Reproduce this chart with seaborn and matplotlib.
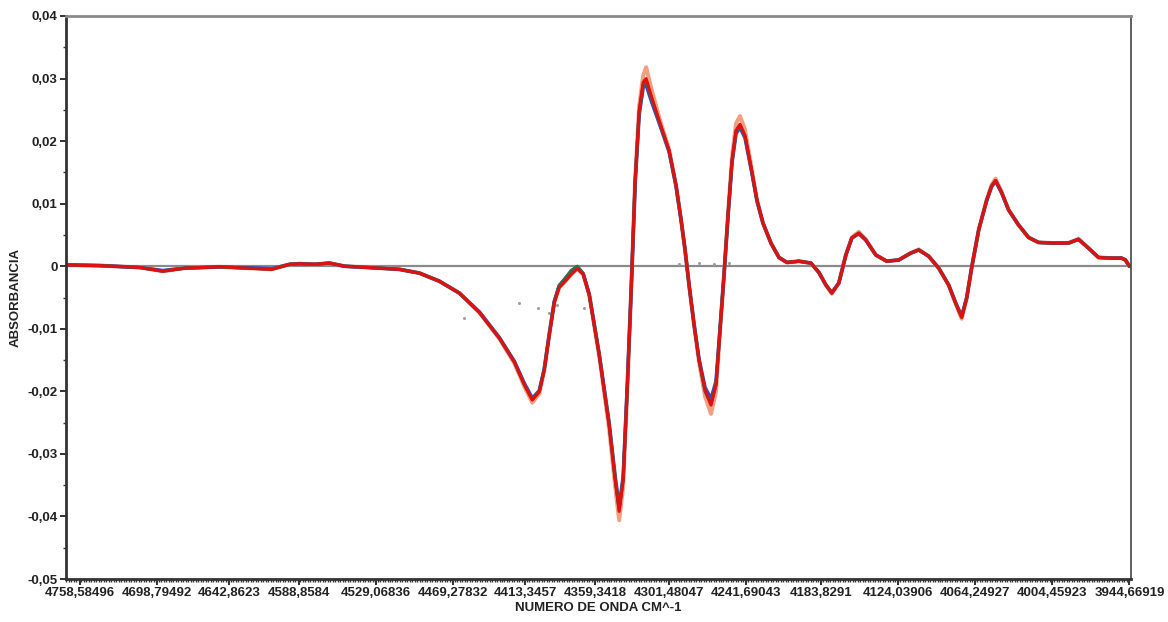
import matplotlib
matplotlib.use("Agg")
import matplotlib.pyplot as plt
import matplotlib.ticker as mticker
import pandas as pd
import seaborn as sns

# wavenumber (cm^-1) of the read points, high -> low
wavenumber = [
    4769.4, 4743.1, 4712.1, 4694.3, 4677.3, 4650.2, 4619.2, 4609.9, 4596.0, 4588.2,
    4576.6, 4565.0, 4553.4, 4526.3, 4510.8, 4495.3, 4479.8, 4464.3, 4448.8, 4433.3,
    4421.7, 4414.0, 4407.8, 4402.4, 4398.5, 4394.6, 4390.7, 4386.9, 4382.2, 4377.6,
    4372.9, 4368.3, 4363.6, 4355.9, 4348.2, 4343.5, 4340.4, 4337.3, 4334.2, 4331.1,
    4328.0, 4324.9, 4321.8, 4319.5, 4315.6, 4309.4, 4301.7, 4296.3, 4292.4, 4289.3,
    4286.2, 4282.3, 4278.5, 4273.8, 4269.2, 4265.3, 4262.2, 4259.1, 4256.0, 4252.9,
    4249.8, 4246.7, 4242.8, 4237.4, 4233.5, 4228.9, 4222.7, 4216.5, 4210.3, 4201.0,
    4191.7, 4185.5, 4180.1, 4175.5, 4170.1, 4164.6, 4160.0, 4154.6, 4149.2, 4141.4,
    4132.9, 4123.6, 4114.3, 4108.1, 4100.4, 4092.6, 4084.9, 4079.5, 4074.8, 4070.9,
    4067.1, 4061.6, 4055.5, 4051.6, 4048.5, 4043.8, 4038.4, 4030.7, 4022.9, 4015.2,
    4003.6, 3992.0, 3984.2, 3976.5, 3968.7, 3959.4, 3950.9, 3947.8, 3944.7,
]

abs_red = [
    0.0002, 0.0001, -0.0002, -0.0008, -0.0003, -0.0001, -0.0004, -0.0005, 0.0003, 0.0004,
    0.0003, 0.0005, 0.0000, -0.0003, -0.0005, -0.0011, -0.0024, -0.0043, -0.0074, -0.0115,
    -0.0153, -0.0189, -0.0214, -0.0201, -0.0166, -0.0110, -0.0058, -0.0034, -0.0024, -0.0013,
    -0.0004, -0.0013, -0.0046, -0.0142, -0.0254, -0.0342, -0.0392, -0.0342, -0.0198, -0.0038,
    0.0137, 0.0249, 0.0294, 0.0300, 0.0273, 0.0233, 0.0185, 0.0129, 0.0074, 0.0026,
    -0.0030, -0.0094, -0.0150, -0.0198, -0.0222, -0.0190, -0.0102, -0.0014, 0.0082, 0.0169,
    0.0217, 0.0227, 0.0209, 0.0150, 0.0105, 0.0069, 0.0037, 0.0014, 0.0006, 0.0008,
    0.0005, -0.0010, -0.0030, -0.0043, -0.0027, 0.0018, 0.0045, 0.0053, 0.0042, 0.0018,
    0.0008, 0.0010, 0.0021, 0.0026, 0.0016, -0.0003, -0.0030, -0.0059, -0.0082, -0.0051,
    -0.0003, 0.0058, 0.0105, 0.0128, 0.0137, 0.0118, 0.0090, 0.0066, 0.0046, 0.0038,
    0.0037, 0.0037, 0.0043, 0.0029, 0.0014, 0.0013, 0.0013, 0.0010, 0.0000,
]

abs_orange = [
    0.0002, 0.0001, -0.0002, -0.0008, -0.0003, -0.0001, -0.0004, -0.0005, 0.0003, 0.0004,
    0.0003, 0.0005, 0.0000, -0.0003, -0.0005, -0.0011, -0.0024, -0.0043, -0.0074, -0.0116,
    -0.0155, -0.0192, -0.0218, -0.0204, -0.0167, -0.0110, -0.0058, -0.0034, -0.0024, -0.0013,
    -0.0004, -0.0013, -0.0046, -0.0144, -0.0260, -0.0352, -0.0406, -0.0352, -0.0202, -0.0038,
    0.0140, 0.0256, 0.0305, 0.0318, 0.0285, 0.0238, 0.0187, 0.0130, 0.0074, 0.0026,
    -0.0030, -0.0095, -0.0153, -0.0208, -0.0236, -0.0200, -0.0105, -0.0014, 0.0084, 0.0174,
    0.0228, 0.0240, 0.0218, 0.0153, 0.0106, 0.0069, 0.0037, 0.0014, 0.0006, 0.0008,
    0.0005, -0.0010, -0.0030, -0.0044, -0.0027, 0.0018, 0.0046, 0.0055, 0.0043, 0.0018,
    0.0008, 0.0010, 0.0021, 0.0027, 0.0016, -0.0003, -0.0030, -0.0060, -0.0084, -0.0052,
    -0.0003, 0.0058, 0.0106, 0.0130, 0.0140, 0.0119, 0.0090, 0.0066, 0.0046, 0.0038,
    0.0037, 0.0037, 0.0044, 0.0029, 0.0014, 0.0013, 0.0013, 0.0010, 0.0000,
]

abs_blue = [
    0.0002, 0.0001, -0.0002, -0.0007, -0.0003, -0.0001, -0.0003, -0.0004, 0.0003, 0.0004,
    0.0003, 0.0005, 0.0000, -0.0003, -0.0005, -0.0011, -0.0024, -0.0043, -0.0073, -0.0114,
    -0.0152, -0.0187, -0.0211, -0.0199, -0.0164, -0.0108, -0.0056, -0.0031, -0.0020, -0.0008,
    -0.0001, -0.0012, -0.0045, -0.0140, -0.0250, -0.0336, -0.0385, -0.0336, -0.0195, -0.0038,
    0.0134, 0.0242, 0.0286, 0.0290, 0.0265, 0.0229, 0.0183, 0.0128, 0.0074, 0.0026,
    -0.0030, -0.0093, -0.0148, -0.0194, -0.0212, -0.0184, -0.0100, -0.0014, 0.0080, 0.0165,
    0.0212, 0.0222, 0.0205, 0.0148, 0.0104, 0.0069, 0.0037, 0.0014, 0.0006, 0.0008,
    0.0005, -0.0010, -0.0030, -0.0042, -0.0027, 0.0018, 0.0045, 0.0052, 0.0042, 0.0018,
    0.0008, 0.0010, 0.0021, 0.0026, 0.0016, -0.0003, -0.0030, -0.0058, -0.0080, -0.0050,
    -0.0003, 0.0058, 0.0104, 0.0127, 0.0136, 0.0117, 0.0090, 0.0066, 0.0046, 0.0038,
    0.0037, 0.0037, 0.0043, 0.0029, 0.0014, 0.0013, 0.0013, 0.0010, 0.0000,
]

abs_green = [
    0.0002, 0.0001, -0.0002, -0.0008, -0.0003, -0.0001, -0.0004, -0.0005, 0.0003, 0.0004,
    0.0003, 0.0005, 0.0000, -0.0003, -0.0005, -0.0011, -0.0024, -0.0043, -0.0074, -0.0115,
    -0.0153, -0.0189, -0.0213, -0.0200, -0.0165, -0.0109, -0.0057, -0.0031, -0.0019, -0.0007,
    0.0000, -0.0012, -0.0046, -0.0141, -0.0252, -0.0339, -0.0389, -0.0339, -0.0197, -0.0038,
    0.0136, 0.0246, 0.0290, 0.0296, 0.0270, 0.0231, 0.0184, 0.0129, 0.0074, 0.0026,
    -0.0030, -0.0094, -0.0150, -0.0200, -0.0220, -0.0189, -0.0101, -0.0014, 0.0081, 0.0167,
    0.0215, 0.0225, 0.0207, 0.0149, 0.0105, 0.0069, 0.0037, 0.0014, 0.0006, 0.0008,
    0.0005, -0.0010, -0.0030, -0.0043, -0.0027, 0.0018, 0.0045, 0.0053, 0.0042, 0.0018,
    0.0008, 0.0010, 0.0021, 0.0026, 0.0016, -0.0003, -0.0030, -0.0059, -0.0081, -0.0051,
    -0.0003, 0.0058, 0.0105, 0.0128, 0.0137, 0.0118, 0.0090, 0.0066, 0.0046, 0.0038,
    0.0037, 0.0037, 0.0043, 0.0029, 0.0014, 0.0013, 0.0013, 0.0010, 0.0000,
]

# stray grey points from an incomplete spectrum
noise_wn = [4460.4, 4435.7, 4417.8, 4403.1, 4394.6, 4388.4, 4367.5, 4331.1,
            4293.9, 4278.5, 4266.9, 4255.2]
noise_abs = [-0.0083, -0.0110, -0.0059, -0.0066, -0.0074, -0.0062, -0.0066, -0.0030,
             0.0003, 0.0005, 0.0003, 0.0005]

tick_wn = [4758.58496, 4698.79492, 4642.8623, 4588.8584, 4529.06836, 4469.27832,
           4413.3457, 4359.3418, 4301.48047, 4241.69043, 4183.8291, 4124.03906,
           4064.24927, 4004.45923, 3944.66919]
tick_labels = ["4758,58496", "4698,79492", "4642,8623", "4588,8584", "4529,06836",
               "4469,27832", "4413,3457", "4359,3418", "4301,48047", "4241,69043",
               "4183,8291", "4124,03906", "4064,24927", "4004,45923", "3944,66919"]

y_ticks = [0.04, 0.03, 0.02, 0.01, 0.0, -0.01, -0.02, -0.03, -0.04, -0.05]
y_labels = ["0,04", "0,03", "0,02", "0,01", "0", "-0,01", "-0,02", "-0,03", "-0,04", "-0,05"]

sns.set_theme(style="ticks")
plt.rcParams["font.family"] = ["Liberation Sans Narrow", "Liberation Sans", "DejaVu Sans"]

df = pd.concat([
    pd.DataFrame({"wn": wavenumber, "abs": abs_orange, "serie": "orange"}),
    pd.DataFrame({"wn": wavenumber, "abs": abs_blue, "serie": "blue"}),
    pd.DataFrame({"wn": wavenumber, "abs": abs_green, "serie": "green"}),
    pd.DataFrame({"wn": wavenumber, "abs": abs_red, "serie": "red"}),
], ignore_index=True)

fig = plt.figure(figsize=(11.68, 6.22), dpi=100)
ax = fig.add_axes([0.0565, 0.0691, 0.9118, 0.9052])

ax.axhline(0, color="#8a8a8a", lw=1.6, zorder=1)

styles = {
    "orange": ("#f0a080", 2.9),
    "blue": ("#3848c8", 2.6),
    "green": ("#2f6f4f", 2.3),
    "red": ("#e01010", 2.2),
}
for name, (color, lw) in styles.items():
    sns.lineplot(data=df[df["serie"] == name], x="wn", y="abs", sort=False,
                 color=color, lw=lw, ax=ax, zorder=2)

sns.scatterplot(x=noise_wn, y=noise_abs, color="#a0a0a0", s=5, linewidth=0,
                ax=ax, zorder=1)

ax.set_xlim(4769.4, 3943.5)
ax.set_ylim(-0.05, 0.04)

ax.set_xticks(tick_wn)
ax.set_xticklabels(tick_labels)
ax.xaxis.set_minor_locator(mticker.MultipleLocator(1.93))
ax.set_yticks(y_ticks)
ax.set_yticklabels(y_labels)
ax.yaxis.set_minor_locator(mticker.MultipleLocator(0.005))

ax.tick_params(axis="both", which="major", labelsize=9.5, colors="#222222",
               length=4, width=1.3, pad=2)
ax.tick_params(axis="both", which="minor", length=2.5, width=1, colors="#333333")
for lbl in ax.get_xticklabels() + ax.get_yticklabels():
    lbl.set_fontweight("bold")
    lbl.set_color("#222222")

ax.set_xlabel("NUMERO DE ONDA CM^-1", fontsize=9.5, fontweight="bold",
              color="#222222", labelpad=2)
ax.set_ylabel("ABSORBANCIA", fontsize=9.5, fontweight="bold",
              color="#222222", labelpad=4)

ax.spines["top"].set_color("#8a8a8a")
ax.spines["top"].set_linewidth(2)
ax.spines["right"].set_color("#444444")
ax.spines["right"].set_linewidth(1.2)
ax.spines["left"].set_color("#333333")
ax.spines["left"].set_linewidth(2)
ax.spines["bottom"].set_color("#333333")
ax.spines["bottom"].set_linewidth(2)

fig.savefig("out.png", dpi=100)
